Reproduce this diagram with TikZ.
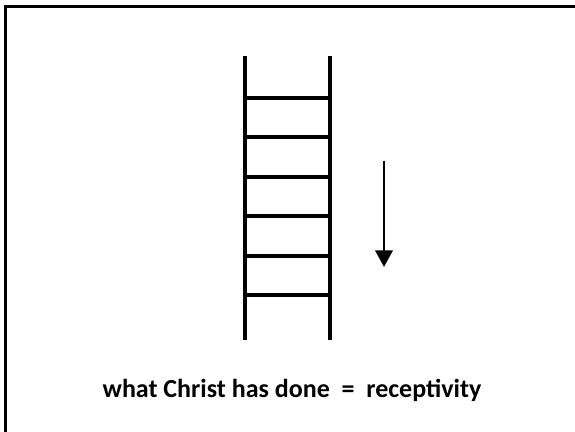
\documentclass[tikz,border=0pt]{standalone}
\usepackage{fontspec}
\setmainfont{Carlito}
\usetikzlibrary{arrows.meta,positioning}
\tikzset{
  frame/.style={black,line width=1.6pt},
  rail/.style={black,line width=3pt},
  rung/.style={black,line width=2.8pt},
  pointer/.style={-{Triangle[length=12.5pt,width=13pt]},line width=2.2pt},
  caption/.style={font=\fontsize{19.5}{23}\selectfont\bfseries,inner sep=0pt},
}
\begin{document}
\begin{tikzpicture}[x=0.75pt,y=0.75pt]
  \path[use as bounding box] (0,0) rectangle (575,432);
  % slide edge, only top and left show
  \draw[frame] (5.5,0) -- (5.5,425.5) -- (575,425.5);

  % ladder
  \coordinate (LT) at (245,376);
  \coordinate (LB) at (245,92);
  \coordinate (RT) at (330,376);
  \coordinate (RB) at (330,92);
  \draw[rail] (LT) -- (LB);
  \draw[rail] (RT) -- (RB);
  \foreach \y in {334,295,255,216,176,137}
    \draw[rung] (245,\y) -- (330,\y);

  % downward arrow
  \coordinate (AT) at (384,271);
  \coordinate (AB) at (384,165);
  \draw[pointer] (AT) -- (AB);

  \node[caption,anchor=base] (CAP) at (292,34)
    {what Christ has done \ = \ receptivity};
\end{tikzpicture}
\end{document}
